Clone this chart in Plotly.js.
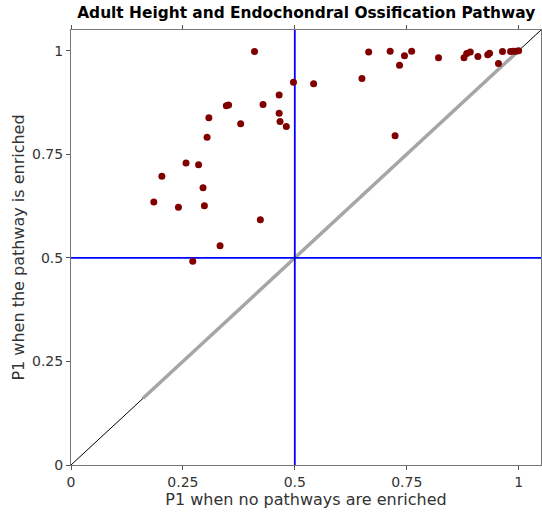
<!DOCTYPE html>
<html>
<head>
<meta charset="utf-8">
<script src="https://cdn.plot.ly/plotly-3.0.1.min.js"></script>
<style>html,body{margin:0;padding:0;background:#fff;}#chart{width:542px;height:512px;}</style>
</head>
<body>
<div id="chart"></div>
<script>
// P1 when no pathways are enriched (x) vs P1 when the pathway is enriched (y)
const p1None = [0.410,0.497,0.542,0.465,0.347,0.352,0.429,0.308,0.465,0.379,0.467,0.481,0.304,0.257,0.285,0.203,0.295,0.185,0.240,0.298,0.423,0.333,0.272,
                0.665,0.713,0.745,0.761,0.734,0.650,0.821,0.878,0.884,0.892,0.909,0.931,0.935,0.955,0.964,0.982,0.988,0.994,1.000,0.724];
const p1Enriched = [0.998,0.924,0.920,0.893,0.867,0.869,0.870,0.838,0.849,0.824,0.829,0.817,0.791,0.729,0.725,0.697,0.669,0.635,0.622,0.626,0.592,0.529,0.492,
                0.997,0.999,0.988,0.999,0.965,0.933,0.983,0.983,0.993,0.997,0.986,0.990,0.994,0.969,0.998,0.998,0.999,0.999,1.000,0.795];
const identityFull = [0, 1.05];
const identityFit = [0.161, 1.0];
const halfLine = [0.5, 0.5];
const fullSpan = [0, 1.05];
const tickVals = [0, 0.25, 0.5, 0.75, 1];
const tickText = ['0', '0.25', '0.5', '0.75', '1'];

const traces = [
  {x: identityFull, y: identityFull, mode: 'lines', line: {color: '#000000', width: 1}, hoverinfo: 'skip'},
  {x: identityFit, y: identityFit, mode: 'lines', line: {color: '#a6a6a6', width: 3.5}, hoverinfo: 'skip'},
  {x: halfLine, y: fullSpan, mode: 'lines', line: {color: '#0000ff', width: 1.8}, hoverinfo: 'skip'},
  {x: fullSpan, y: halfLine, mode: 'lines', line: {color: '#0000ff', width: 1.8}, hoverinfo: 'skip'},
  {x: p1None, y: p1Enriched, mode: 'markers', marker: {color: '#800000', size: 7}}
];

const axisCommon = {
  range: [0, 1.05], tickvals: tickVals, ticktext: tickText,
  ticks: 'outside', ticklen: 4, tickcolor: '#555', tickwidth: 1,
  showline: true, linecolor: '#777', linewidth: 1, mirror: 'ticks',
  showgrid: false, zeroline: false,
  tickfont: {family: 'DejaVu Sans, sans-serif', size: 14, color: '#333'}
};

const layout = {
  width: 542, height: 512,
  margin: {l: 71, r: 1, t: 30, b: 47},
  paper_bgcolor: '#fff', plot_bgcolor: '#fff',
  showlegend: false,
  title: {text: '<b>Adult Height and Endochondral Ossification Pathway</b>',
          font: {family: 'DejaVu Sans, sans-serif', size: 15.4, color: '#000'},
          x: 0.565, xanchor: 'center', y: 0.975, yanchor: 'middle'},
  xaxis: Object.assign({}, axisCommon, {
    title: {text: 'P1 when no pathways are enriched', standoff: 2,
            font: {family: 'DejaVu Sans, sans-serif', size: 16, color: '#333'}}
  }),
  yaxis: Object.assign({}, axisCommon, {
    title: {text: 'P1 when the pathway is enriched', standoff: 3,
            font: {family: 'DejaVu Sans, sans-serif', size: 16, color: '#333'}}
  })
};

Plotly.newPlot('chart', traces, layout, {displayModeBar: false, staticPlot: true});
</script>
</body>
</html>
